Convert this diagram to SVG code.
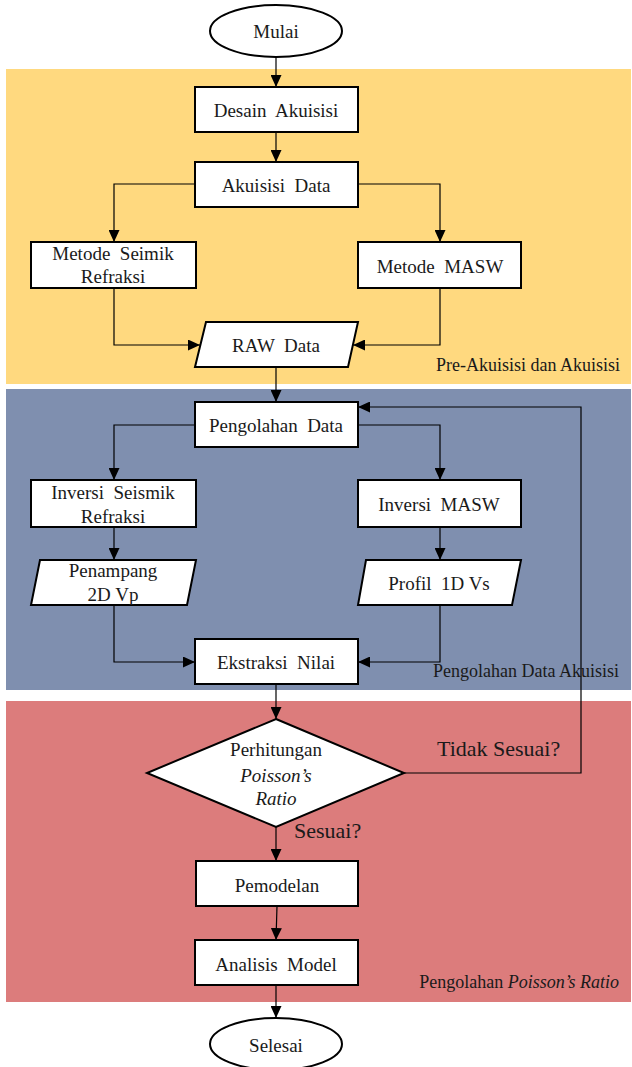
<svg xmlns="http://www.w3.org/2000/svg" width="632" height="1067" viewBox="0 0 632 1067">
<style>
.node{fill:#fff;stroke:#000;stroke-width:2}
.t{font-family:"Liberation Serif","Times New Roman",serif;font-size:19px;fill:#1a1a1a;text-anchor:middle}
.lbl{font-family:"Liberation Serif","Times New Roman",serif;font-size:18px;fill:#1a1a1a;text-anchor:end}
.q{font-family:"Liberation Serif","Times New Roman",serif;font-size:22px;fill:#1a1a1a}
.c{fill:none;stroke:#000;stroke-width:1.2;marker-end:url(#ah)}
</style>
<defs>
<marker id="ah" markerUnits="userSpaceOnUse" markerWidth="12" markerHeight="11" refX="12" refY="5.5" orient="auto">
<path d="M0,0 L12,5.5 L0,11 z" fill="#000"/>
</marker>
</defs>
<rect width="632" height="1067" fill="#fff"/>
<g id="bands">
<rect x="6" y="69" width="625" height="315" fill="#FFD97F"/>
<rect x="6" y="389" width="625" height="301" fill="#7F8FAF"/>
<rect x="6" y="701" width="625" height="301" fill="#DC7C7C"/>
<text class="lbl" x="620" y="371">Pre-Akuisisi dan Akuisisi</text>
<text class="lbl" x="619" y="677">Pengolahan Data Akuisisi</text>
<text class="lbl" x="619" y="988">Pengolahan <tspan font-style="italic">Poisson’s Ratio</tspan></text>
</g>
<g id="connectors">
<path class="c" d="M276,57 V87"/>
<path class="c" d="M276,132 V162"/>
<path class="c" d="M195,184 H114 V242"/>
<path class="c" d="M358,184 H440 V242"/>
<path class="c" d="M114,288 V345 H200"/>
<path class="c" d="M440,288 V345 H353"/>
<path class="c" d="M276,367 V402"/>
<path class="c" d="M195,425 H114 V480"/>
<path class="c" d="M358,425 H440 V480"/>
<path class="c" d="M114,527 V560"/>
<path class="c" d="M440,527 V560"/>
<path class="c" d="M114,605 V662 H195"/>
<path class="c" d="M440,605 V662 H358"/>
<path class="c" d="M276,684 V719"/>
<path class="c" d="M404,773 H581 V407 H358"/>
<path class="c" d="M276,827 V861"/>
<path class="c" d="M277,906 L276,940"/>
<path class="c" d="M276,985 V1018"/>
<text class="q" x="437" y="756">Tidak Sesuai?</text>
<text class="q" x="294" y="838">Sesuai?</text>
</g>
<g id="mulai">
<ellipse class="node" cx="276" cy="31" rx="66" ry="26"/>
<text class="t" x="276" y="38">Mulai</text>
</g>
<g id="desain-akuisisi">
<rect class="node" x="195" y="87" width="163" height="45"/>
<text class="t" x="276" y="117" xml:space="preserve">Desain  Akuisisi</text>
</g>
<g id="akuisisi-data">
<rect class="node" x="195" y="162" width="163" height="45"/>
<text class="t" x="276" y="192" xml:space="preserve">Akuisisi  Data</text>
</g>
<g id="metode-seimik">
<rect class="node" x="31" y="242" width="165" height="46"/>
<text class="t" x="113" y="260" xml:space="preserve">Metode  Seimik</text>
<text class="t" x="113" y="283">Refraksi</text>
</g>
<g id="metode-masw">
<rect class="node" x="358" y="242" width="163" height="46"/>
<text class="t" x="440" y="273" xml:space="preserve">Metode  MASW</text>
</g>
<g id="raw-data">
<polygon class="node" points="206,322 358,322 348,367 195,367"/>
<text class="t" x="276" y="352" xml:space="preserve">RAW  Data</text>
</g>
<g id="pengolahan-data">
<rect class="node" x="195" y="402" width="163" height="45"/>
<text class="t" x="276" y="432" xml:space="preserve">Pengolahan  Data</text>
</g>
<g id="inversi-seismik">
<rect class="node" x="31" y="480" width="165" height="47"/>
<text class="t" x="113" y="499" xml:space="preserve">Inversi  Seismik</text>
<text class="t" x="113" y="523">Refraksi</text>
</g>
<g id="inversi-masw">
<rect class="node" x="358" y="480" width="163" height="47"/>
<text class="t" x="439" y="511" xml:space="preserve">Inversi  MASW</text>
</g>
<g id="penampang">
<polygon class="node" points="40,560 196,560 187,605 31,605"/>
<text class="t" x="113" y="577">Penampang</text>
<text class="t" x="113" y="601">2D Vp</text>
</g>
<g id="profil">
<polygon class="node" points="366,560 521,560 512,605 358,605"/>
<text class="t" x="439" y="590" xml:space="preserve">Profil  1D Vs</text>
</g>
<g id="ekstraksi-nilai">
<rect class="node" x="195" y="639" width="163" height="45"/>
<text class="t" x="276" y="669" xml:space="preserve">Ekstraksi  Nilai</text>
</g>
<g id="perhitungan">
<polygon class="node" points="276,719 404,773 276,827 147,773"/>
<text class="t" x="276" y="756">Perhitungan</text>
<text class="t" x="276" y="782" font-style="italic">Poisson’s</text>
<text class="t" x="276" y="805" font-style="italic">Ratio</text>
</g>
<g id="pemodelan">
<rect class="node" x="196" y="861" width="162" height="45"/>
<text class="t" x="277" y="892">Pemodelan</text>
</g>
<g id="analisis-model">
<rect class="node" x="195" y="940" width="163" height="45"/>
<text class="t" x="276" y="971" xml:space="preserve">Analisis  Model</text>
</g>
<g id="selesai">
<ellipse class="node" cx="276" cy="1044" rx="66" ry="26"/>
<text class="t" x="276" y="1052">Selesai</text>
</g>
</svg>
